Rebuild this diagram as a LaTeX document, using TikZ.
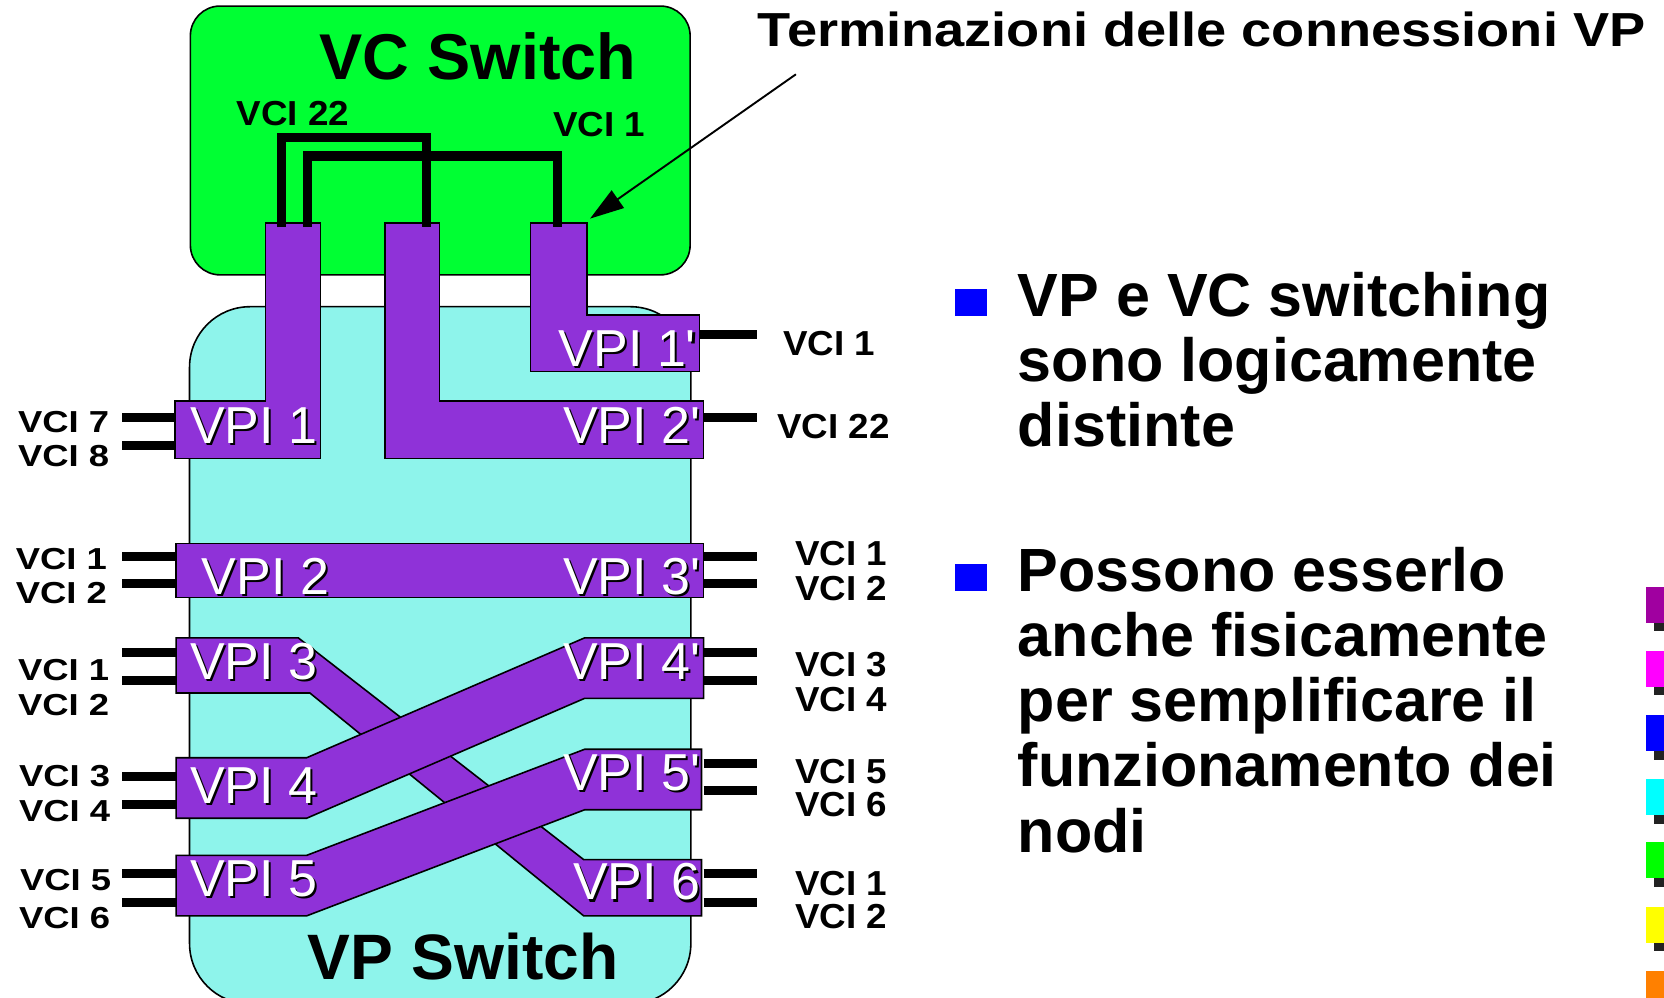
\documentclass[tikz,border=0pt]{standalone}
\usepackage{fontspec}
\setmainfont{Liberation Sans}
\usepackage{graphicx}
\usetikzlibrary{calc,arrows.meta}
\definecolor{vpcyan}{RGB}{142,244,235}
\definecolor{vcgreen}{RGB}{0,255,51}
\definecolor{vpipurple}{RGB}{143,50,216}
\definecolor{bulletblue}{RGB}{0,0,255}
\definecolor{swpurple}{RGB}{160,0,160}
\definecolor{swmagenta}{RGB}{255,0,255}
\definecolor{swblue}{RGB}{0,0,255}
\definecolor{swcyan}{RGB}{0,255,255}
\definecolor{swgreen}{RGB}{0,255,0}
\definecolor{swyellow}{RGB}{255,255,0}
\definecolor{sworange}{RGB}{255,128,0}
\definecolor{swshadow}{RGB}{34,34,34}
\newcommand\vpilabel[4]{%
  \node[vpishadow,anchor=#2] at ($(#3)+(2,2)$) {#4};
  \node[vpitext,anchor=#2] (#1) at (#3) {#4};}
\newcommand\rlabtxt[1]{\scalebox{1.06}[1]{#1}}
\newcommand\llabtxt[1]{\scalebox{1.2}[1]{#1}}
\begin{document}
\begin{tikzpicture}[x=1pt,y=-1pt,
  box/.style={draw=black,line width=1.5pt},
  purp/.style={fill=vpipurple,draw=black,line width=1.5pt,line join=miter},
  conn/.style={line width=8.5pt,black,line join=miter},
  port/.style={line width=8.5pt,black},
  vpitext/.style={text=white,inner sep=0pt,font=\fontsize{49}{49}\selectfont},
  vpishadow/.style={text=black,inner sep=0pt,font=\fontsize{49}{49}\selectfont},
  rlab/.style={inner sep=0pt,anchor=base west,font=\bfseries\fontsize{32.7}{33}\selectfont},
  llab/.style={inner sep=0pt,anchor=base east,font=\bfseries\fontsize{28.6}{29}\selectfont},
  bigt/.style={inner sep=0pt,anchor=base west,font=\bfseries\fontsize{61}{61}\selectfont},
  btext/.style={inner sep=0pt,anchor=base west,font=\bfseries\fontsize{57.5}{57.5}\selectfont}]
\path[use as bounding box] (0,0) rectangle (1568,940);
\clip (0,0) rectangle (1568,940);

% switches
\draw[box,fill=vpcyan,rounded corners=57pt] (178.6,289) rectangle (651,946);
\draw[box,fill=vcgreen,rounded corners=28pt] (179.4,5.7) rectangle (650.3,259);

% upper VP paths
\draw[purp] (250,210) -- (302,210) -- (302,432) -- (165,432) -- (165,378) -- (250,378) -- cycle;
\draw[purp] (363,210) -- (414,210) -- (414,378) -- (663,378) -- (663,432) -- (363,432) -- cycle;
\draw[purp] (500,210) -- (553,210) -- (553,297) -- (659,297) -- (659,350) -- (500,350) -- cycle;

% lower VP paths
\draw[purp] (166,512) rectangle (663,563);
\draw[purp] (166,601) -- (281,601) -- (550,810) -- (661,810) -- (661,863) -- (550,863) -- (292,653) -- (166,653) -- cycle;
\draw[purp] (166,714) -- (289,714) -- (551,601) -- (663,601) -- (663,658) -- (551,658) -- (289,771) -- (166,771) -- cycle;
\draw[purp] (166,806) -- (289,806) -- (551,706) -- (661,706) -- (661,763) -- (551,763) -- (289,863) -- (166,863) -- cycle;

% VC switch connections
\coordinate (ca1) at (265,214); \coordinate (ca2) at (402,214);
\coordinate (cb1) at (290,214); \coordinate (cb2) at (525,214);
\draw[conn] (ca1) |- (402,130) -- (ca2);
\draw[conn] (cb1) |- (525,147) -- (cb2);

% ports left
\foreach \y in {393,420,524,550,615,641,732,758,823,850}
  \draw[port] (115,\y) -- (166,\y);
% ports right
\draw[port] (659,315) -- (713,315);
\foreach \y in {393,524,550,615,641,719,745,823,850}
  \draw[port] (663,\y) -- (713,\y);

% VPI labels
\vpilabel{vpi1}{base west}{179,418}{VPI 1}
\vpilabel{vpi2p}{base east}{660,418}{VPI 2\textquotesingle}
\vpilabel{vpi1p}{base east}{656,345}{VPI 1\textquotesingle}
\vpilabel{vpi2}{base west}{190,560}{VPI 2}
\vpilabel{vpi3p}{base east}{660,560}{VPI 3\textquotesingle}
\vpilabel{vpi3}{base west}{179,640}{VPI 3}
\vpilabel{vpi4p}{base east}{660,640}{VPI 4\textquotesingle}
\vpilabel{vpi4}{base west}{179,757}{VPI 4}
\vpilabel{vpi5p}{base east}{660,745}{VPI 5\textquotesingle}
\vpilabel{vpi5}{base west}{179,845}{VPI 5}
\vpilabel{vpi6}{base east}{660,848}{VPI 6}

% left VCI labels
\node[llab] (l7) at (103,408) {\llabtxt{VCI 7}};
\node[llab] (l8) at (103,440) {\llabtxt{VCI 8}};
\node[llab] (l21) at (101,537) {\llabtxt{VCI 1}};
\node[llab] (l22) at (101,568.5) {\llabtxt{VCI 2}};
\node[llab] (l31) at (103,640.8) {\llabtxt{VCI 1}};
\node[llab] (l32) at (103,673.8) {\llabtxt{VCI 2}};
\node[llab] (l43) at (104,741.3) {\llabtxt{VCI 3}};
\node[llab] (l44) at (104,774.3) {\llabtxt{VCI 4}};
\node[llab] (l55) at (105,838.7) {\llabtxt{VCI 5}};
\node[llab] (l56) at (104,874.8) {\llabtxt{VCI 6}};

% right VCI labels
\node[rlab] (r1) at (738,334.6) {\rlabtxt{VCI 1}};
\node[rlab] (r22) at (732,413) {\rlabtxt{VCI 22}};
\node[rlab] (r31) at (749,532.5) {\rlabtxt{VCI 1}};
\node[rlab] (r32) at (749,565.5) {\rlabtxt{VCI 2}};
\node[rlab] (r43) at (749,637.6) {\rlabtxt{VCI 3}};
\node[rlab] (r44) at (749,670.6) {\rlabtxt{VCI 4}};
\node[rlab] (r55) at (749,738) {\rlabtxt{VCI 5}};
\node[rlab] (r56) at (749,769.6) {\rlabtxt{VCI 6}};
\node[rlab] (r61) at (749,843.4) {\rlabtxt{VCI 1}};
\node[rlab] (r62) at (749,874.8) {\rlabtxt{VCI 2}};

% VC switch labels
\node[rlab] (g22) at (223,117.8) {\rlabtxt{VCI 22}};
\node[rlab] (g1) at (521,128.8) {\rlabtxt{VCI 1}};
\node[bigt] (vcsw) at (301,75) {VC Switch};
\node[bigt,font=\bfseries\fontsize{60.5}{60.5}\selectfont] (vpsw) at (290,923) {VP Switch};

% title and arrow
\node[inner sep=0pt,anchor=base west,font=\bfseries\fontsize{45}{45}\selectfont] (title) at (714,44) {\scalebox{1.135}[1]{Terminazioni delle connessioni VP}};
\coordinate (arrS) at (750,70);
\coordinate (arrE) at (556,206);
\draw[line width=1.8pt,-{Triangle[length=32pt,width=20pt]}] (arrS) -- (arrE);

% bullets
\fill[bulletblue] (900,272) rectangle (930,298);
\fill[bulletblue] (900,531) rectangle (930,557);
\node[btext] (b11) at (959,298) {VP e VC switching};
\node[btext] (b12) at (959,359.5) {sono logicamente};
\node[btext] (b13) at (959,421) {distinte};
\node[btext] (b21) at (959,557) {Possono esserlo};
\node[btext] (b22) at (959,618.5) {anche fisicamente};
\node[btext] (b23) at (959,680) {per semplificare il};
\node[btext] (b24) at (959,741.5) {funzionamento dei};
\node[btext] (b25) at (959,803) {nodi};

% colour swatches at right edge
\foreach \yy/\cc in {553/swpurple,613.2/swmagenta,673.8/swblue,734/swcyan,793.5/swgreen,854.4/swyellow,915/sworange}{
  \fill[swshadow] (1559,\yy+8) rectangle (1570,\yy+42);
  \fill[\cc] (1551,\yy) rectangle (1570,\yy+34);
}
\end{tikzpicture}
\end{document}
